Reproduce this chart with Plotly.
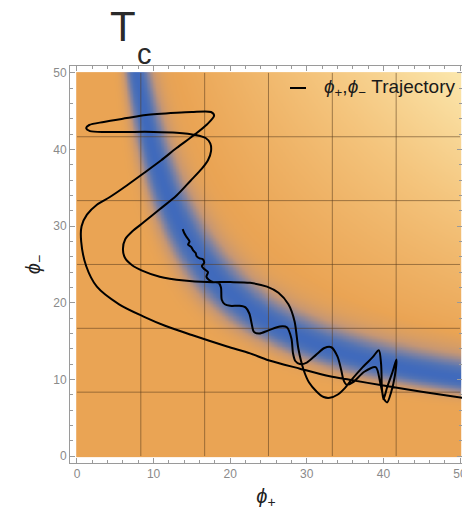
import numpy as np
import plotly.graph_objects as go

# ---------------- data ----------------
# trajectory (phi_plus, phi_minus)
traj_x = [50.6, 45.0, 40.0, 35.6, 33.0, 29.1, 25.0, 22.6, 19.6, 15.0, 11.5, 8.7, 5.5, 2.6, 1.2, 0.55, 0.6,
          1.3, 2.6, 4.3, 6.5, 8.7, 11.0, 13.0, 15.3, 17.0, 17.9, 17.5, 15.0, 13.0, 9.0, 6.5, 3.5, 1.6, 1.2,
          1.7, 4.0, 6.5, 10.0, 13.0, 15.5, 16.8, 17.4, 17.5, 17.1, 16.3, 14.8, 13.0, 10.8, 8.7, 7.2, 6.3,
          6.0, 6.3, 7.2, 8.5, 10.8, 14.0, 17.0, 20.0, 22.6, 24.8, 26.3, 27.6, 28.4, 28.9, 29.6, 30.3, 31.3,
          32.2, 33.0, 34.0, 35.0, 35.8, 37.3, 38.6, 39.4, 39.7, 39.8, 40.0, 40.5, 41.2, 41.7, 41.5, 41.0,
          40.5, 40.1, 39.6, 39.0, 37.5, 36.0, 35.2, 34.8, 34.5, 34.0, 33.2, 32.3, 31.2, 30.0, 29.1, 28.5,
          28.2, 28.0, 27.4, 26.5, 25.0, 23.8, 23.1, 22.8, 22.5, 22.0, 21.2, 20.0, 19.3, 18.9, 18.8, 18.5,
          17.8, 17.2, 16.9, 17.1, 16.6, 16.3, 16.6, 16.4, 16.0, 15.6, 15.5, 15.2, 14.9, 14.5, 14.7, 14.3,
          14.0, 13.8]
traj_y = [7.55, 8.4, 9.2, 9.95, 10.4, 11.4, 12.5, 13.4, 14.3, 15.8, 17.0, 18.2, 19.8, 22.1, 24.8, 28.0, 30.0,
          31.5, 32.8, 33.8, 35.3, 36.9, 38.6, 40.2, 41.9, 43.3, 44.4, 44.9, 44.9, 44.8, 44.5, 44.1, 43.6, 43.2, 42.8,
          42.4, 42.3, 42.3, 42.3, 42.2, 41.9, 41.5, 40.8, 39.8, 38.6, 37.5, 35.9, 34.0, 32.2, 30.5, 29.3, 28.3,
          27.0, 25.8, 24.9, 24.2, 23.4, 22.9, 22.7, 22.7, 22.6, 22.1, 21.3, 19.8, 17.6, 14.0, 11.2, 9.6, 8.4,
          7.7, 7.6, 8.0, 8.9, 9.9, 11.6, 12.9, 13.8, 12.0, 9.0, 7.4, 9.0, 11.0, 12.6, 10.5, 8.3,
          7.0, 7.4, 9.5, 11.6, 11.0, 9.6, 9.3, 9.9, 11.2, 13.0, 14.2, 14.1, 13.2, 12.2, 12.0, 12.4,
          13.4, 15.3, 16.8, 16.9, 16.4, 16.0, 16.2, 17.3, 18.6, 19.4, 19.6, 19.6, 19.8, 20.4, 22.0, 22.6,
          22.7, 23.0, 23.4, 24.0, 24.4, 24.8, 25.2, 25.7, 25.8, 26.1, 26.5, 26.8, 27.3, 27.6, 28.0, 28.6,
          29.1, 29.6]

# density background: band centre phi_minus = BAND_A / phi_plus + BAND_C
BAND_A = 365.0
BAND_C = 3.0
BAND_LOG_WIDTH = 0.22
BAND_WIDEN = 0.004     # extra log-width per unit of phi_plus beyond 25
GRID_STEP = 50.0 / 6.0
x_tick_vals = [0, 10, 20, 30, 40, 50]
y_tick_vals = [0, 10, 20, 30, 40, 50]

FONT = "Liberation Sans, Arial, sans-serif"
PHI = "ϕ"
LEGEND_TEXT = f"<i>{PHI}</i><sub>+</sub>,<i>{PHI}</i><sub>−</sub> Trajectory"

# ---------------- field ----------------
gx = np.linspace(0, 50, 251)
gy = np.linspace(0, 50, 251)
X, Y = np.meshgrid(gx, gy)
F = (Y - BAND_C) * X
logratio = np.log(np.clip(F, 1e-6, None) / BAND_A)
width = BAND_LOG_WIDTH + BAND_WIDEN * np.clip(X - 25.0, 0, None)
blue = np.exp(-(logratio / width) ** 2)
blue[F <= 0] = 0.0
light = np.clip((F - 600.0) / 1700.0, 0, 1)
Z = 0.5 * (1 - blue) + 0.5 * light

colorscale = [
    [0.0, "rgb(64,106,188)"],
    [0.1, "rgb(84,116,180)"],
    [0.22, "rgb(130,131,160)"],
    [0.36, "rgb(198,151,116)"],
    [0.5, "rgb(234,164,84)"],
    [0.75, "rgb(244,196,124)"],
    [1.0, "rgb(251,229,170)"],
]

fig = go.Figure()
fig.add_trace(go.Heatmap(x=gx, y=gy, z=Z, colorscale=colorscale, zmin=0, zmax=1,
                         showscale=False, zsmooth="best", hoverinfo="skip"))

grid_vals = [GRID_STEP * k for k in range(1, 6)]
for g in grid_vals:
    fig.add_trace(go.Scatter(x=[g, g], y=[0, 50], mode="lines",
                             line=dict(color="rgba(90,60,30,0.55)", width=1),
                             showlegend=False, hoverinfo="skip"))
    fig.add_trace(go.Scatter(x=[0, 50], y=[g, g], mode="lines",
                             line=dict(color="rgba(90,60,30,0.55)", width=1),
                             showlegend=False, hoverinfo="skip"))

fig.add_trace(go.Scatter(x=traj_x, y=traj_y, mode="lines",
                         line=dict(color="black", width=2, shape="spline", smoothing=0.8),
                         name=LEGEND_TEXT, showlegend=False))

axis_common = dict(
    showgrid=False, zeroline=False, showline=True, linecolor="#9a9a9a", linewidth=1,
    ticks="inside", ticklen=5, tickcolor="#9a9a9a", mirror="ticks", automargin=False,
    ticklabeloverflow="allow",
    tickfont=dict(family=FONT, size=12, color="#8a8a8a"),
    minor=dict(ticks="inside", ticklen=3, dtick=2, tickcolor="#9a9a9a", showgrid=False),
)
fig.update_xaxes(range=[-0.91, 50.26], tickvals=x_tick_vals, **axis_common,
                 title=dict(text=f"<i>{PHI}</i><sub>+</sub>", font=dict(family=FONT, size=20, color="#222"),
                            standoff=8))
fig.update_yaxes(range=[-0.91, 50.9], tickvals=y_tick_vals, **axis_common,
                 title=dict(text=f"<i>{PHI}</i><sub>−</sub>", font=dict(family=FONT, size=20, color="#222"),
                            standoff=7))

# title T_c
fig.add_annotation(text="T", xref="paper", yref="paper", x=(123 - 70) / 392, y=1 + (66 - 26.7) / 397,
                   showarrow=False, xanchor="center", yanchor="middle",
                   font=dict(family=FONT, size=42, color="#2a2a2a"))
fig.add_annotation(text="c", xref="paper", yref="paper", x=(144 - 70) / 392, y=1 + (66 - 54) / 397,
                   showarrow=False, xanchor="center", yanchor="middle",
                   font=dict(family=FONT, size=29, color="#2a2a2a"))

# legend (line sample + label)
leg_y = 1 - (88 - 66) / 397
fig.add_shape(type="line", xref="paper", yref="paper", x0=(290 - 70) / 392, x1=(306 - 70) / 392,
              y0=leg_y, y1=leg_y, line=dict(color="black", width=2))
fig.add_annotation(text=LEGEND_TEXT, xref="paper", yref="paper", x=(322 - 70) / 392, y=leg_y,
                   showarrow=False, xanchor="left", yanchor="middle",
                   font=dict(family=FONT, size=19, color="#1a1a1a"))

fig.update_layout(
    width=462, height=519,
    margin=dict(l=70, r=0, t=66, b=56, autoexpand=False),
    paper_bgcolor="white", plot_bgcolor="white",
    showlegend=False,
)

fig.write_html("out.html", config={"displayModeBar": False},
               post_script="document.body.style.margin='0';document.body.style.padding='0';")
